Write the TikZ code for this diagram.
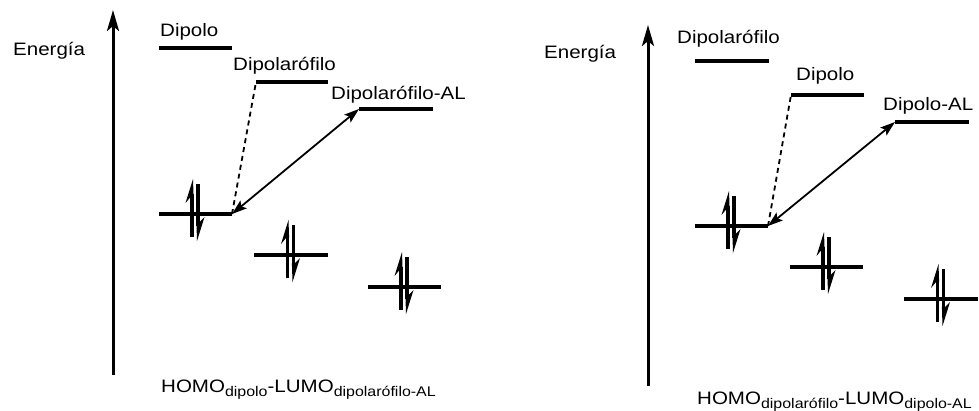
\documentclass[tikz,border=0pt]{standalone}
\usepackage{fontspec}
\usepackage{graphicx}
\setmainfont{Liberation Sans}
\usetikzlibrary{arrows.meta}
\newcommand{\wt}[1]{\scalebox{1.14}[1]{#1}}
\newcommand{\sbx}[1]{\raisebox{-4.5pt}{\fontsize{14}{16}\selectfont #1}}
\tikzset{
  lbl/.style={inner sep=0pt, anchor=base west, font=\fontsize{18}{21}\selectfont},
  level/.style={line width=3.8pt},
  axis/.style={line width=3pt, -{Stealth[length=21pt,width=12pt,inset=5pt]}},
  dashcon/.style={line width=1.8pt, dash pattern=on 5pt off 4pt},
  dblarrow/.style={line width=1.8pt, {Stealth[length=15pt,width=10pt,inset=3pt]}-{Stealth[length=15pt,width=10pt,inset=3pt]}},
  spins/.pic={
    \draw[line width=3.2pt] (-3.5,23) -- (-3.5,-20);
    \fill (-2.5,-35) -- (-10,-11) -- (-5,-17) -- (-1.9,-17) -- cycle;
    \draw[line width=3.2pt] (2.5,-30) -- (2.5,12);
    \fill (1.5,27) -- (9,3) -- (4,8) -- (0.9,8) -- cycle;
  }
}
\begin{document}
\begin{tikzpicture}[x=1pt,y=-1pt]
\useasboundingbox (0,0) rectangle (979,410);
% ---------- left panel ----------
\coordinate (axLb) at (113,375);
\coordinate (axLt) at (113,10);
\draw[axis] (axLb) -- (axLt);
\node[lbl] (enL) at (13,55) {\wt{Energía}};
% upper levels
\coordinate (a1) at (159,48);  \coordinate (a2) at (232,48);
\coordinate (b1) at (256,82);  \coordinate (b2) at (328,82);
\coordinate (c1) at (359,109); \coordinate (c2) at (433,109);
\draw[level] (a1) -- (a2);
\draw[level] (b1) -- (b2);
\draw[level] (c1) -- (c2);
\node[lbl] (tDipL) at (160,36) {\wt{Dipolo}};
\node[lbl] (tDfL) at (233,70) {\wt{Dipolarófilo}};
\node[lbl] (tDfAL) at (331,99) {\wt{Dipolarófilo-AL}};
% lower levels
\coordinate (d1) at (159,214); \coordinate (d2) at (232,214);
\coordinate (e1) at (254,255); \coordinate (e2) at (328,255);
\coordinate (f1) at (368,287); \coordinate (f2) at (441,287);
\draw[level] (d1) -- (d2);
\draw[level] (e1) -- (e2);
\draw[level] (f1) -- (f2);
\pic at (195.5,214) {spins};
\pic at (291,255) {spins};
\pic at (404.5,287) {spins};
\draw[dashcon] (d2) -- (b1);
\draw[dblarrow] (d2) -- (c1);
\node[lbl] (botL) at (161,392) {\wt{HOMO\sbx{dipolo}-LUMO\sbx{dipolarófilo-AL}}};
% ---------- right panel ----------
\coordinate (axRb) at (648,386);
\coordinate (axRt) at (648,25);
\draw[axis] (axRb) -- (axRt);
\node[lbl] (enR) at (544,58) {\wt{Energía}};
\coordinate (g1) at (695,61);  \coordinate (g2) at (769,61);
\coordinate (h1) at (791,95);  \coordinate (h2) at (864,95);
\coordinate (i1) at (895,122); \coordinate (i2) at (969,122);
\draw[level] (g1) -- (g2);
\draw[level] (h1) -- (h2);
\draw[level] (i1) -- (i2);
\node[lbl] (tDfR) at (677,43) {\wt{Dipolarófilo}};
\node[lbl] (tDipR) at (796,80) {\wt{Dipolo}};
\node[lbl] (tDipAL) at (883,110) {\wt{Dipolo-AL}};
\coordinate (j1) at (695,226); \coordinate (j2) at (768,226);
\coordinate (k1) at (790,267); \coordinate (k2) at (863,267);
\coordinate (l1) at (904,299); \coordinate (l2) at (978,299);
\draw[level] (j1) -- (j2);
\draw[level] (k1) -- (k2);
\draw[level] (l1) -- (l2);
\pic at (731.5,226) {spins};
\pic at (826.5,267) {spins};
\pic at (941,299) {spins};
\draw[dashcon] (j2) -- (h1);
\draw[dblarrow] (j2) -- (i1);
\node[lbl] (botR) at (697,404) {\wt{HOMO\sbx{dipolarófilo}-LUMO\sbx{dipolo-AL}}};
\end{tikzpicture}
\end{document}
